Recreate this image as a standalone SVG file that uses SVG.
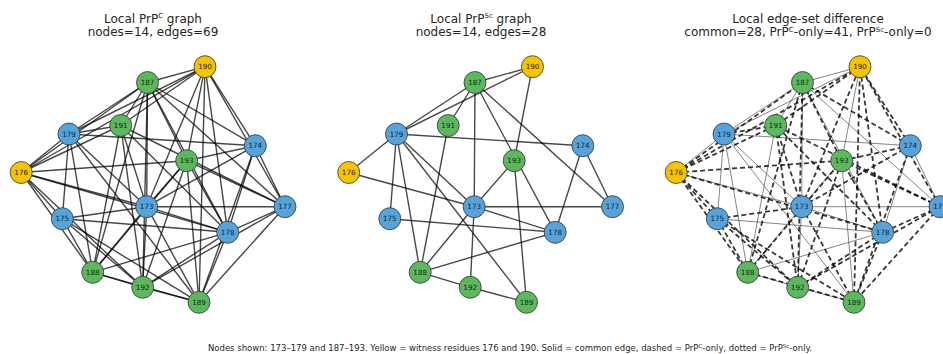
<svg xmlns="http://www.w3.org/2000/svg" xmlns:xlink="http://www.w3.org/1999/xlink" width="943" height="354" viewBox="0 0 943 354">
<style>
text{font-family:"DejaVu Sans","Liberation Sans",sans-serif;fill:#262626}
.t{font-size:12px;text-anchor:middle}
.sup{font-size:7px}
.ft{font-size:8.5px;text-anchor:middle}
.fs{font-size:5.5px}
.e{stroke:#000;stroke-opacity:.72;stroke-width:1.4;fill:none}
.ec{stroke:#333;stroke-opacity:.6;stroke-width:1;fill:none}
.ed{stroke:#000;stroke-opacity:.78;stroke-width:1.8;stroke-dasharray:5 3;fill:none}
.n circle{stroke:#333;stroke-width:.8}
.b circle{fill:#56A3DC}
.g circle{fill:#5CB85C}
.y circle{fill:#F5C400}
.n text{font-size:7.2px;text-anchor:middle;fill:#222}
</style>
<defs>
<g id="Ec">
<line x1="147.5" y1="82.5" x2="205" y2="66.7"/>
<line x1="69" y1="134" x2="205" y2="66.7"/>
<line x1="205" y1="66.7" x2="186.7" y2="160.7"/>
<line x1="69" y1="134" x2="147.5" y2="82.5"/>
<line x1="21.2" y1="172.5" x2="69" y2="134"/>
<line x1="147.5" y1="82.5" x2="120.7" y2="125.5"/>
<line x1="146.7" y1="206.7" x2="147.5" y2="82.5"/>
<line x1="227.7" y1="232.3" x2="147.5" y2="82.5"/>
<line x1="285" y1="206.7" x2="147.5" y2="82.5"/>
<line x1="255.3" y1="145.7" x2="69" y2="134"/>
<line x1="146.7" y1="206.7" x2="69" y2="134"/>
<line x1="62.3" y1="218.7" x2="69" y2="134"/>
<line x1="69" y1="134" x2="92.7" y2="272.3"/>
<line x1="69" y1="134" x2="199" y2="302.3"/>
<line x1="146.7" y1="206.7" x2="21.2" y2="172.5"/>
<line x1="92.7" y1="272.3" x2="120.7" y2="125.5"/>
<line x1="146.7" y1="206.7" x2="186.7" y2="160.7"/>
<line x1="199" y1="302.3" x2="186.7" y2="160.7"/>
<line x1="255.3" y1="145.7" x2="285" y2="206.7"/>
<line x1="255.3" y1="145.7" x2="227.7" y2="232.3"/>
<line x1="146.7" y1="206.7" x2="285" y2="206.7"/>
<line x1="146.7" y1="206.7" x2="227.7" y2="232.3"/>
<line x1="146.7" y1="206.7" x2="92.7" y2="272.3"/>
<line x1="146.7" y1="206.7" x2="142.7" y2="287.3"/>
<line x1="62.3" y1="218.7" x2="227.7" y2="232.3"/>
<line x1="227.7" y1="232.3" x2="92.7" y2="272.3"/>
<line x1="92.7" y1="272.3" x2="142.7" y2="287.3"/>
<line x1="199" y1="302.3" x2="142.7" y2="287.3"/>
</g>
<g id="Eo">
<line x1="146.7" y1="206.7" x2="255.3" y2="145.7"/>
<line x1="146.7" y1="206.7" x2="62.3" y2="218.7"/>
<line x1="146.7" y1="206.7" x2="199" y2="302.3"/>
<line x1="146.7" y1="206.7" x2="205" y2="66.7"/>
<line x1="146.7" y1="206.7" x2="120.7" y2="125.5"/>
<line x1="255.3" y1="145.7" x2="147.5" y2="82.5"/>
<line x1="255.3" y1="145.7" x2="199" y2="302.3"/>
<line x1="255.3" y1="145.7" x2="205" y2="66.7"/>
<line x1="255.3" y1="145.7" x2="186.7" y2="160.7"/>
<line x1="62.3" y1="218.7" x2="21.2" y2="172.5"/>
<line x1="62.3" y1="218.7" x2="92.7" y2="272.3"/>
<line x1="62.3" y1="218.7" x2="199" y2="302.3"/>
<line x1="62.3" y1="218.7" x2="142.7" y2="287.3"/>
<line x1="21.2" y1="172.5" x2="227.7" y2="232.3"/>
<line x1="21.2" y1="172.5" x2="147.5" y2="82.5"/>
<line x1="21.2" y1="172.5" x2="92.7" y2="272.3"/>
<line x1="21.2" y1="172.5" x2="205" y2="66.7"/>
<line x1="21.2" y1="172.5" x2="120.7" y2="125.5"/>
<line x1="21.2" y1="172.5" x2="142.7" y2="287.3"/>
<line x1="21.2" y1="172.5" x2="186.7" y2="160.7"/>
<line x1="285" y1="206.7" x2="227.7" y2="232.3"/>
<line x1="285" y1="206.7" x2="199" y2="302.3"/>
<line x1="285" y1="206.7" x2="205" y2="66.7"/>
<line x1="285" y1="206.7" x2="120.7" y2="125.5"/>
<line x1="285" y1="206.7" x2="142.7" y2="287.3"/>
<line x1="285" y1="206.7" x2="186.7" y2="160.7"/>
<line x1="227.7" y1="232.3" x2="199" y2="302.3"/>
<line x1="227.7" y1="232.3" x2="205" y2="66.7"/>
<line x1="227.7" y1="232.3" x2="120.7" y2="125.5"/>
<line x1="227.7" y1="232.3" x2="142.7" y2="287.3"/>
<line x1="227.7" y1="232.3" x2="186.7" y2="160.7"/>
<line x1="69" y1="134" x2="120.7" y2="125.5"/>
<line x1="147.5" y1="82.5" x2="92.7" y2="272.3"/>
<line x1="147.5" y1="82.5" x2="142.7" y2="287.3"/>
<line x1="147.5" y1="82.5" x2="186.7" y2="160.7"/>
<line x1="92.7" y1="272.3" x2="199" y2="302.3"/>
<line x1="92.7" y1="272.3" x2="186.7" y2="160.7"/>
<line x1="199" y1="302.3" x2="205" y2="66.7"/>
<line x1="205" y1="66.7" x2="120.7" y2="125.5"/>
<line x1="120.7" y1="125.5" x2="142.7" y2="287.3"/>
<line x1="142.7" y1="287.3" x2="186.7" y2="160.7"/>
</g>
</defs>

<g id="titles">
<text class="t" x="153" y="22.5">Local PrP<tspan class="sup" dy="-4.5">C</tspan><tspan dy="4.5"> graph</tspan></text>
<text class="t" x="153" y="36">nodes=14, edges=69</text>
<text class="t" x="481" y="22.5">Local PrP<tspan class="sup" dy="-4.5">Sc</tspan><tspan dy="4.5"> graph</tspan></text>
<text class="t" x="481" y="36">nodes=14, edges=28</text>
<text class="t" x="808" y="22.5">Local edge-set difference</text>
<text class="t" x="808" y="36">common=28, PrP<tspan class="sup" dy="-4.5">C</tspan><tspan dy="4.5">-only=41, PrP</tspan><tspan class="sup" dy="-4.5">Sc</tspan><tspan dy="4.5">-only=0</tspan></text>
</g>

<g id="connectors">
<g id="edges-prpc"><use xlink:href="#Ec" class="e"/><use xlink:href="#Eo" class="e"/></g>
<g id="edges-prpsc" transform="translate(327.5,0)"><use xlink:href="#Ec" class="e"/></g>
<g id="edges-diff" transform="translate(655,0)"><use xlink:href="#Ec" class="ec"/><use xlink:href="#Eo" class="ed"/></g>
</g>

<g id="nodes-prpc">
<g id="p1-173" class="n b"><circle cx="146.7" cy="206.7" r="11"/><text x="146.7" y="209.2">173</text></g>
<g id="p1-174" class="n b"><circle cx="255.3" cy="145.7" r="11"/><text x="255.3" y="148.2">174</text></g>
<g id="p1-175" class="n b"><circle cx="62.3" cy="218.7" r="11"/><text x="62.3" y="221.2">175</text></g>
<g id="p1-176" class="n y"><circle cx="21.2" cy="172.5" r="11"/><text x="21.2" y="175">176</text></g>
<g id="p1-177" class="n b"><circle cx="285" cy="206.7" r="11"/><text x="285" y="209.2">177</text></g>
<g id="p1-178" class="n b"><circle cx="227.7" cy="232.3" r="11"/><text x="227.7" y="234.8">178</text></g>
<g id="p1-179" class="n b"><circle cx="69" cy="134" r="11"/><text x="69" y="136.5">179</text></g>
<g id="p1-187" class="n g"><circle cx="147.5" cy="82.5" r="11"/><text x="147.5" y="85">187</text></g>
<g id="p1-188" class="n g"><circle cx="92.7" cy="272.3" r="11"/><text x="92.7" y="274.8">188</text></g>
<g id="p1-189" class="n g"><circle cx="199" cy="302.3" r="11"/><text x="199" y="304.8">189</text></g>
<g id="p1-190" class="n y"><circle cx="205" cy="66.7" r="11"/><text x="205" y="69.2">190</text></g>
<g id="p1-191" class="n g"><circle cx="120.7" cy="125.5" r="11"/><text x="120.7" y="128">191</text></g>
<g id="p1-192" class="n g"><circle cx="142.7" cy="287.3" r="11"/><text x="142.7" y="289.8">192</text></g>
<g id="p1-193" class="n g"><circle cx="186.7" cy="160.7" r="11"/><text x="186.7" y="163.2">193</text></g>
</g>

<g id="nodes-prpsc" transform="translate(327.5,0)">
<g id="p2-173" class="n b"><circle cx="146.7" cy="206.7" r="11"/><text x="146.7" y="209.2">173</text></g>
<g id="p2-174" class="n b"><circle cx="255.3" cy="145.7" r="11"/><text x="255.3" y="148.2">174</text></g>
<g id="p2-175" class="n b"><circle cx="62.3" cy="218.7" r="11"/><text x="62.3" y="221.2">175</text></g>
<g id="p2-176" class="n y"><circle cx="21.2" cy="172.5" r="11"/><text x="21.2" y="175">176</text></g>
<g id="p2-177" class="n b"><circle cx="285" cy="206.7" r="11"/><text x="285" y="209.2">177</text></g>
<g id="p2-178" class="n b"><circle cx="227.7" cy="232.3" r="11"/><text x="227.7" y="234.8">178</text></g>
<g id="p2-179" class="n b"><circle cx="69" cy="134" r="11"/><text x="69" y="136.5">179</text></g>
<g id="p2-187" class="n g"><circle cx="147.5" cy="82.5" r="11"/><text x="147.5" y="85">187</text></g>
<g id="p2-188" class="n g"><circle cx="92.7" cy="272.3" r="11"/><text x="92.7" y="274.8">188</text></g>
<g id="p2-189" class="n g"><circle cx="199" cy="302.3" r="11"/><text x="199" y="304.8">189</text></g>
<g id="p2-190" class="n y"><circle cx="205" cy="66.7" r="11"/><text x="205" y="69.2">190</text></g>
<g id="p2-191" class="n g"><circle cx="120.7" cy="125.5" r="11"/><text x="120.7" y="128">191</text></g>
<g id="p2-192" class="n g"><circle cx="142.7" cy="287.3" r="11"/><text x="142.7" y="289.8">192</text></g>
<g id="p2-193" class="n g"><circle cx="186.7" cy="160.7" r="11"/><text x="186.7" y="163.2">193</text></g>
</g>

<g id="nodes-diff" transform="translate(655,0)">
<g id="p3-173" class="n b"><circle cx="146.7" cy="206.7" r="11"/><text x="146.7" y="209.2">173</text></g>
<g id="p3-174" class="n b"><circle cx="255.3" cy="145.7" r="11"/><text x="255.3" y="148.2">174</text></g>
<g id="p3-175" class="n b"><circle cx="62.3" cy="218.7" r="11"/><text x="62.3" y="221.2">175</text></g>
<g id="p3-176" class="n y"><circle cx="21.2" cy="172.5" r="11"/><text x="21.2" y="175">176</text></g>
<g id="p3-177" class="n b"><circle cx="285" cy="206.7" r="11"/><text x="285" y="209.2">177</text></g>
<g id="p3-178" class="n b"><circle cx="227.7" cy="232.3" r="11"/><text x="227.7" y="234.8">178</text></g>
<g id="p3-179" class="n b"><circle cx="69" cy="134" r="11"/><text x="69" y="136.5">179</text></g>
<g id="p3-187" class="n g"><circle cx="147.5" cy="82.5" r="11"/><text x="147.5" y="85">187</text></g>
<g id="p3-188" class="n g"><circle cx="92.7" cy="272.3" r="11"/><text x="92.7" y="274.8">188</text></g>
<g id="p3-189" class="n g"><circle cx="199" cy="302.3" r="11"/><text x="199" y="304.8">189</text></g>
<g id="p3-190" class="n y"><circle cx="205" cy="66.7" r="11"/><text x="205" y="69.2">190</text></g>
<g id="p3-191" class="n g"><circle cx="120.7" cy="125.5" r="11"/><text x="120.7" y="128">191</text></g>
<g id="p3-192" class="n g"><circle cx="142.7" cy="287.3" r="11"/><text x="142.7" y="289.8">192</text></g>
<g id="p3-193" class="n g"><circle cx="186.7" cy="160.7" r="11"/><text x="186.7" y="163.2">193</text></g>
</g>

<text id="footer" class="ft" x="510" y="350.5">Nodes shown: 173–179 and 187–193. Yellow = witness residues 176 and 190. Solid = common edge, dashed = PrP<tspan class="fs" dy="-3">C</tspan><tspan dy="3">-only, dotted = PrP</tspan><tspan class="fs" dy="-3">Sc</tspan><tspan dy="3">-only.</tspan></text>
</svg>
